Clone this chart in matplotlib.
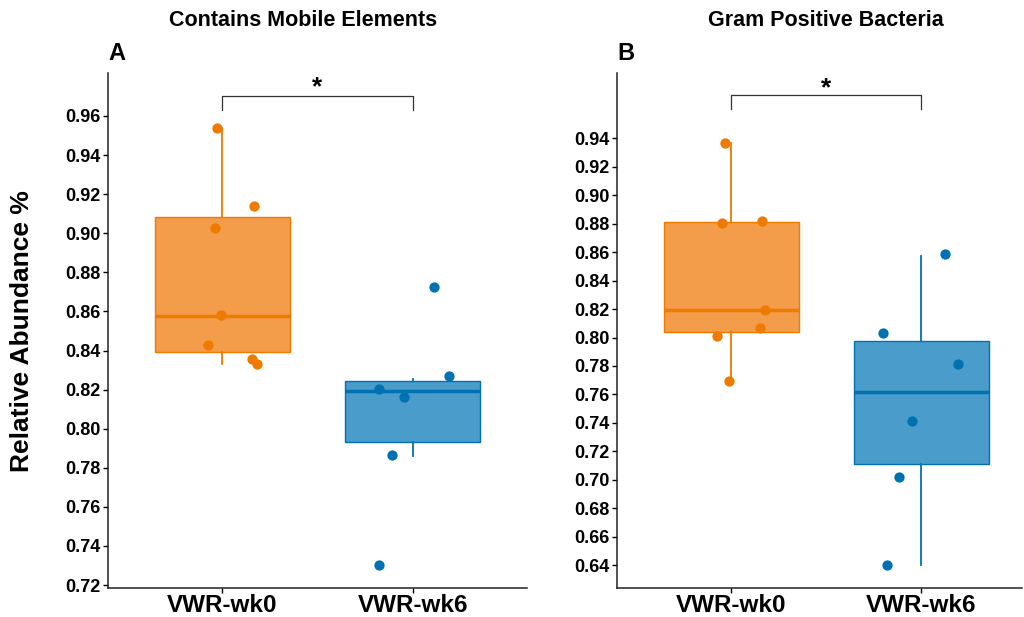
import matplotlib
matplotlib.use("Agg")
import matplotlib.pyplot as plt

plt.rcParams['font.family'] = ['Liberation Sans', 'DejaVu Sans']
plt.rcParams['font.weight'] = 'bold'

groups = ["VWR-wk0", "VWR-wk6"]
colors_pt = ["#EF7A00", "#0072B2"]
colors_box = ["#F39C4A", "#4A9CCA"]

# Panel A: Contains Mobile Elements
a_wk0 = [0.9539, 0.9139, 0.9027, 0.8582, 0.8428, 0.8356, 0.8331]
a_wk0_x = [0.974, 1.168, 0.963, 0.995, 0.927, 1.157, 1.183]
a_wk6 = [0.8725, 0.8203, 0.8162, 0.8270, 0.7865, 0.7302]
a_wk6_x = [2.110, 1.822, 1.953, 2.188, 1.890, 1.822]
# box stats: whislo, q1, median, q3, whishi
a_stats = [[0.8331, 0.8392, 0.8577, 0.9083, 0.9539],
           [0.7860, 0.7932, 0.8193, 0.8244, 0.8254]]

# Panel B: Gram Positive Bacteria
b_wk0 = [0.9365, 0.8808, 0.8822, 0.8196, 0.8069, 0.8013, 0.7696]
b_wk0_x = [0.968, 0.953, 1.163, 1.179, 1.153, 0.926, 0.989]
b_wk6 = [0.8585, 0.8035, 0.7817, 0.7415, 0.7021, 0.6400]
b_wk6_x = [2.126, 1.800, 2.195, 1.953, 1.884, 1.821]
b_stats = [[0.7696, 0.8041, 0.8196, 0.8815, 0.9365],
           [0.6400, 0.7111, 0.7618, 0.7977, 0.8576]]

a_ticks = [0.72, 0.74, 0.76, 0.78, 0.80, 0.82, 0.84, 0.86, 0.88, 0.90, 0.92, 0.94, 0.96]
b_ticks = [0.64, 0.66, 0.68, 0.70, 0.72, 0.74, 0.76, 0.78, 0.80, 0.82, 0.84, 0.86, 0.88, 0.90, 0.92, 0.94]

W, H = 1024, 617
fig = plt.figure(figsize=(W / 100, H / 100), dpi=100)

def px_axes(l, r, t, b):
    return fig.add_axes([l / W, 1 - b / H, (r - l) / W, (b - t) / H])

axA = px_axes(108, 527, 73, 588)
axB = px_axes(617, 1022, 73, 588)

def draw(ax, stats, pts, ptx, ticks, ylim, xlim, bracket, star_y, letter):
    for i, s in enumerate(stats):
        st = dict(whislo=s[0], q1=s[1], med=s[2], q3=s[3], whishi=s[4], fliers=[])
        ax.bxp([st], positions=[i + 1], widths=0.71, patch_artist=True,
               showcaps=False, showfliers=False,
               boxprops=dict(facecolor=colors_box[i], edgecolor=colors_pt[i], linewidth=1.0),
               whiskerprops=dict(color=colors_pt[i], linewidth=1.3),
               medianprops=dict(color=colors_pt[i], linewidth=2.5))
    for i in range(2):
        ax.scatter(ptx[i], pts[i], s=55, color=colors_pt[i], zorder=5, linewidths=0)
    ax.set_xlim(*xlim)
    ax.set_ylim(*ylim)
    ax.set_xticks([1, 2])
    ax.set_xticklabels(groups, fontsize=17.5, fontweight='bold')
    ax.set_yticks(ticks)
    ax.set_yticklabels([f"{t:.2f}" for t in ticks], fontsize=13, fontweight='bold')
    for sp in ['top', 'right']:
        ax.spines[sp].set_visible(False)
    for sp in ['left', 'bottom']:
        ax.spines[sp].set_linewidth(1.1)
        ax.spines[sp].set_color('#222222')
    ax.tick_params(axis='both', length=3.5, width=1.0, colors='black', pad=2)
    ax.tick_params(axis='x', pad=1)
    top, low = bracket
    ax.plot([1, 1, 2, 2], [low, top, top, low], color='#333333', linewidth=0.9)
    ax.text(1.5, star_y, "*", ha='center', va='center', fontsize=19, fontweight='bold')
    ax.text(0.0, 1.015, letter, transform=ax.transAxes, fontsize=17, fontweight='bold',
            ha='left', va='bottom')

draw(axA, a_stats, [a_wk0, a_wk6], [a_wk0_x, a_wk6_x], a_ticks, (0.7185, 0.982),
     (0.4, 2.6), (0.9702, 0.9631), 0.9745, "A")
draw(axB, b_stats, [b_wk0, b_wk6], [b_wk0_x, b_wk6_x], b_ticks, (0.6239, 0.986),
     (0.4, 2.53), (0.9703, 0.9606), 0.9755, "B")

fig.text(303 / W, 1 - 20 / H, "Contains Mobile Elements", ha='center', va='center',
         fontsize=15.5, fontweight='bold')
fig.text(826 / W, 1 - 20 / H, "Gram Positive Bacteria", ha='center', va='center',
         fontsize=15.5, fontweight='bold')

fig.text(22 / W, 1 - 331 / H, "Relative Abundance %", rotation=90, ha='center', va='center',
         fontsize=19, fontweight='bold')

fig.savefig("out.png", dpi=100)
